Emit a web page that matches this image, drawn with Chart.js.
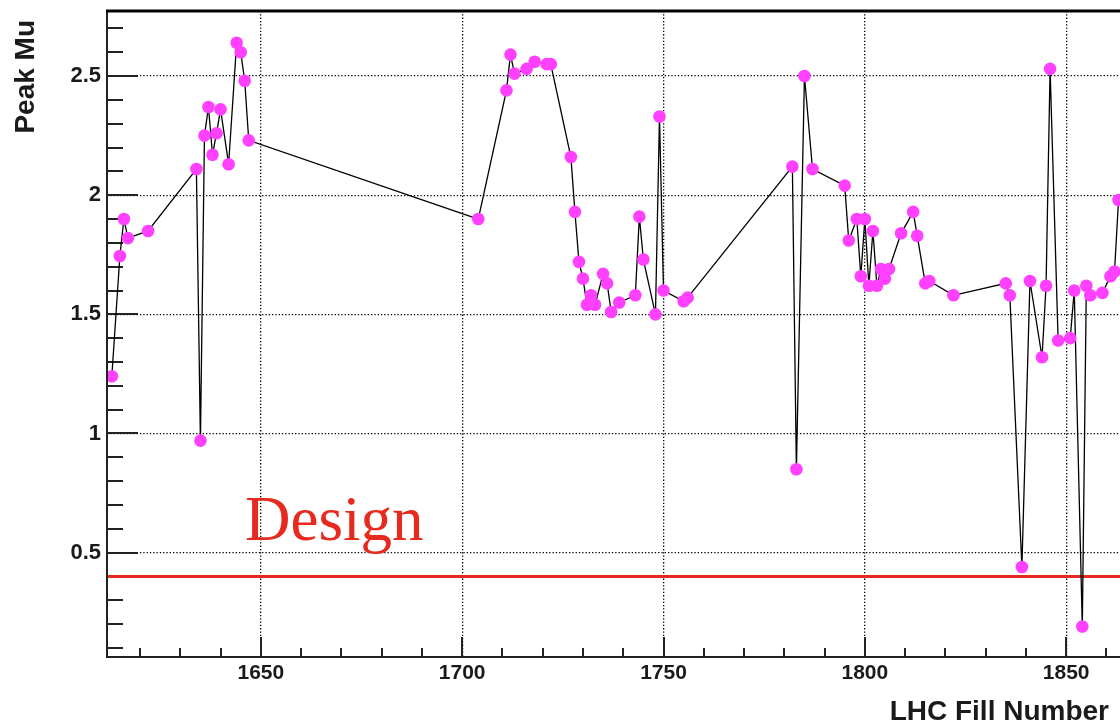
<!DOCTYPE html>
<html>
<head>
<meta charset="utf-8">
<title>Peak Mu per LHC fill</title>
<script src="https://cdn.jsdelivr.net/npm/chart.js@4.4.1/dist/chart.umd.min.js"></script>
<style>
  html, body { margin: 0; padding: 0; background: #fff; overflow: hidden; }
  #wrap { position: relative; width: 1200px; height: 724px; }
</style>
</head>
<body>
<div id="wrap"><canvas id="muChart"></canvas></div>
<script>
// =========================
// DATA
// =========================

const fillNumbers = [
  1613, 1615, 1616, 1617, 1622, 1634, 1635, 1636, 1637, 1638, 1639, 1640, 1642, 1644, 1645, 1646, 1647,
  1704, 1711, 1712, 1713, 1716, 1718, 1721, 1722, 1727, 1728, 1729, 1730, 1731, 1732, 1733, 1735, 1736,
  1737, 1739, 1743, 1744, 1745, 1748, 1749, 1750, 1755, 1756,
  1782, 1783, 1785, 1787, 1795, 1796, 1798, 1799, 1800, 1801, 1802, 1803, 1804, 1805, 1806, 1809, 1812,
  1813, 1815, 1816, 1822, 1835, 1836, 1839, 1841, 1844, 1845, 1846, 1848, 1851, 1852, 1854, 1855, 1856,
  1859, 1861, 1862, 1863,
];

const peakMu = [
  1.24, 1.745, 1.9, 1.82, 1.85, 2.11, 0.97, 2.25, 2.37, 2.17, 2.26, 2.36, 2.13, 2.64, 2.6, 2.48, 2.23,
  1.9, 2.44, 2.59, 2.51, 2.53, 2.56, 2.55, 2.55, 2.16, 1.93, 1.72, 1.65, 1.54, 1.58, 1.54, 1.67, 1.63,
  1.51, 1.55, 1.58, 1.91, 1.73, 1.5, 2.33, 1.6, 1.555, 1.57,
  2.12, 0.85, 2.5, 2.11, 2.04, 1.81, 1.9, 1.66, 1.9, 1.62, 1.85, 1.62, 1.69, 1.65, 1.69, 1.84, 1.93,
  1.83, 1.63, 1.64, 1.58, 1.63, 1.58, 0.44, 1.64, 1.32, 1.62, 2.53, 1.39, 1.4, 1.6, 0.19, 1.62, 1.58,
  1.59, 1.66, 1.68, 1.98,
];

const designMu = 0.4;
const designLabel = "Design";

const xTickLabels = [1650, 1700, 1750, 1800, 1850];
const yTickLabels = [0.5, 1, 1.5, 2, 2.5];

const xRange = [1611.8, 1880];
const yRange = [0.062, 2.773];

// =========================
// STYLE
// =========================

const RED = "#e62a1e";
const MAGENTA = "#ff40ff";
const INK = "#1a1a1a";

Chart.defaults.font.family = "'Liberation Sans', Arial, sans-serif";
Chart.defaults.color = INK;

// =========================
// AXES, FRAME, LABELS
// =========================

// inner ticks go under the data, frame and titles on top (ROOT-like)
const rootFrame = {
  id: "rootFrame",
  beforeDatasetsDraw(chart) {
    const { ctx, chartArea: a, scales } = chart;
    const x = scales.x;
    const y = scales.y;

    ctx.save();
    ctx.strokeStyle = "#222";
    ctx.lineWidth = 2;

    // x ticks: minor every 10, major on labelled values
    for (let v = 1620; v < xRange[1]; v += 10) {
      const px = Math.round(x.getPixelForValue(v));
      const len = xTickLabels.includes(v) ? 20 : 9;
      ctx.beginPath();
      ctx.moveTo(px, a.bottom);
      ctx.lineTo(px, a.bottom - len);
      ctx.stroke();
    }

    // y ticks: minor every 0.1
    for (let i = 1; i <= 27; i++) {
      const v = i / 10;
      const py = Math.round(y.getPixelForValue(v));
      const len = yTickLabels.includes(v) ? 31 : 16;
      ctx.beginPath();
      ctx.moveTo(a.left, py);
      ctx.lineTo(a.left + len, py);
      ctx.stroke();
    }
    ctx.restore();
  },

  afterDraw(chart) {
    const { ctx, chartArea: a, scales } = chart;
    const x = scales.x;
    const y = scales.y;

    ctx.save();
    ctx.strokeStyle = "#222";
    ctx.lineWidth = 2;

    // frame
    ctx.beginPath();
    ctx.moveTo(a.left, a.top);
    ctx.lineTo(a.left, a.bottom);
    ctx.lineTo(a.right, a.bottom);
    ctx.stroke();

    ctx.lineWidth = 3;
    ctx.strokeStyle = "#000";
    ctx.beginPath();
    ctx.moveTo(a.left - 1, a.top);
    ctx.lineTo(a.right, a.top);
    ctx.stroke();

    // axis titles
    ctx.fillStyle = INK;
    ctx.font = "bold 28px 'Liberation Sans', Arial, sans-serif";
    ctx.textAlign = "right";
    ctx.textBaseline = "alphabetic";
    ctx.fillText("LHC Fill Number", 1109, 720);

    ctx.save();
    ctx.translate(34, 20);
    ctx.rotate(-Math.PI / 2);
    ctx.fillText("Peak Mu", 0, 0);
    ctx.restore();

    // design reference label
    ctx.fillStyle = RED;
    ctx.font = "63px 'Liberation Serif', 'Times New Roman', serif";
    ctx.textAlign = "left";
    ctx.fillText(designLabel, x.getPixelForValue(1646.1), y.getPixelForValue(0.552));

    ctx.restore();
  },
};

// =========================
// CHART
// =========================

const muPoints = fillNumbers.map((f, i) => ({ x: f, y: peakMu[i] }));
const designPoints = [
  { x: xRange[0], y: designMu },
  { x: xRange[1], y: designMu },
];

new Chart(document.getElementById("muChart"), {
  type: "line",
  data: {
    datasets: [
      {
        label: "Peak Mu",
        data: muPoints,
        borderColor: "#000",
        borderWidth: 1.3,
        pointRadius: 6.3,
        pointBackgroundColor: MAGENTA,
        pointBorderWidth: 0,
        tension: 0,
        order: 1,
      },
      {
        label: designLabel,
        data: designPoints,
        borderColor: RED,
        borderWidth: 3,
        pointRadius: 0,
        order: 2,
      },
    ],
  },
  options: {
    responsive: true,
    maintainAspectRatio: false,
    animation: false,
    layout: { padding: { top: 11, right: 13, left: 0, bottom: 0 } },
    plugins: {
      legend: { display: false },
      tooltip: { enabled: false },
    },
    scales: {
      x: {
        type: "linear",
        min: xRange[0],
        max: xRange[1],
        afterFit: (scale) => {
          scale.height = 67;
          scale.paddingLeft = 0;
          scale.paddingRight = 0;
        },
        afterBuildTicks: (scale) => { scale.ticks = xTickLabels.map((v) => ({ value: v })); },
        ticks: {
          padding: 4,
          maxRotation: 0,
          font: { size: 21, weight: "bold" },
          color: INK,
          callback: (v) => String(v),
        },
        grid: { color: "#000", lineWidth: 1.3, drawTicks: false },
        border: { display: false, dash: [1.3, 2] },
      },
      y: {
        min: yRange[0],
        max: yRange[1],
        afterFit: (scale) => {
          scale.width = 107;
          scale.paddingTop = 0;
          scale.paddingBottom = 0;
        },
        afterBuildTicks: (scale) => { scale.ticks = yTickLabels.map((v) => ({ value: v })); },
        ticks: {
          padding: 6,
          font: { size: 22, weight: "bold" },
          color: INK,
          callback: (v) => String(v),
        },
        grid: { color: "#000", lineWidth: 1.3, drawTicks: false },
        border: { display: false, dash: [1.3, 2] },
      },
    },
  },
  plugins: [rootFrame],
});
</script>
</body>
</html>
